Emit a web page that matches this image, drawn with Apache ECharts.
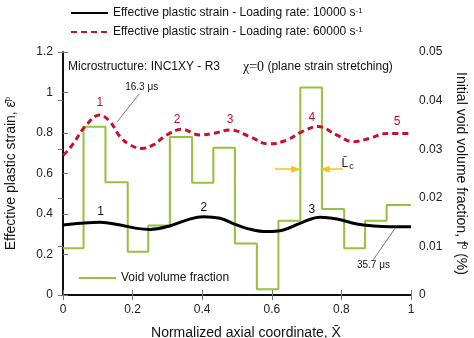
<!DOCTYPE html>
<html>
<head>
<meta charset="utf-8">
<script src="https://cdn.jsdelivr.net/npm/echarts@6/dist/echarts.min.js"></script>
<style>
  html, body { margin: 0; padding: 0; background: #fff; }
  #chart { width: 474px; height: 338px; }
</style>
</head>
<body>
<div id="chart"></div>
<script>
// Normalized axial coordinate samples and effective plastic strain, 10000 s^-1
const strain10kX = [0, 0.049, 0.106, 0.164, 0.212, 0.25, 0.307, 0.355, 0.403, 0.451, 0.499, 0.528, 0.585, 0.633, 0.681, 0.739, 0.787, 0.844, 0.892, 0.940, 1.0];
const strain10kY = [0.346, 0.354, 0.359, 0.346, 0.329, 0.324, 0.341, 0.370, 0.387, 0.379, 0.346, 0.329, 0.313, 0.321, 0.354, 0.384, 0.375, 0.351, 0.341, 0.337, 0.337];

// Effective plastic strain, 60000 s^-1
const strain60kX = [0, 0.011, 0.030, 0.063, 0.106, 0.135, 0.164, 0.193, 0.226, 0.259, 0.298, 0.341, 0.394, 0.432, 0.480, 0.537, 0.590, 0.643, 0.686, 0.733, 0.787, 0.834, 0.882, 0.930, 1.0];
const strain60kY = [0.690, 0.708, 0.749, 0.831, 0.889, 0.856, 0.782, 0.741, 0.724, 0.741, 0.790, 0.818, 0.790, 0.798, 0.815, 0.782, 0.746, 0.765, 0.806, 0.832, 0.790, 0.757, 0.774, 0.798, 0.798];

// Initial void volume fraction per cell (cell edges along X)
const voidEdges = [0, 0.059, 0.122, 0.186, 0.245, 0.307, 0.371, 0.432, 0.494, 0.557, 0.619, 0.682, 0.744, 0.808, 0.868, 0.930, 1];
const voidFraction = [0.0096, 0.0346, 0.0232, 0.0089, 0.0143, 0.0325, 0.0231, 0.0303, 0.0106, 0.0012, 0.0153, 0.0427, 0.0177, 0.0096, 0.0153, 0.0185];

// Axis ranges and tick steps
const xRange = [0, 1], xStep = 0.2;
const strainRange = [0, 1.2], strainStep = 0.2;
const voidRange = [0, 0.05], voidStep = 0.01;

// Peak numbering for each curve
const peaks60k = ['1', '2', '3', '4', '5'];
const peaks10k = ['1', '2', '3'];

const NAME_10K = 'Effective plastic strain - Loading rate: 10000 s-1';
const NAME_60K = 'Effective plastic strain - Loading rate: 60000 s-1';
const NAME_VOID = 'Void volume fraction';

const FONT = 'Liberation Sans, Arial, sans-serif';
const RED = '#c8102e';
const GREEN = '#93c23d';
const GOLD = '#f6c21c';

const zip = (xs, ys) => xs.map((x, i) => [x, ys[i]]);
const voidSteps = voidFraction.map((v, i) => [voidEdges[i], v]);
voidSteps.push([voidEdges[voidEdges.length - 1], voidFraction[voidFraction.length - 1]]);

const supRich = {
  sup: { fontSize: 8, fontFamily: FONT, verticalAlign: 'top', lineHeight: 10, padding: [0, 0, 6, 0] },
  sub: { fontSize: 9, fontFamily: FONT, verticalAlign: 'bottom', padding: [6, 0, 0, 1] }
};

const textMark = (coord, text, color, size) => ({
  coord, name: text, symbolSize: 0,
  label: { show: true, position: 'inside', formatter: '{b}', color, fontSize: size, fontFamily: FONT }
});

const chart = echarts.init(document.getElementById('chart'), null, { renderer: 'canvas' });

const option = {
  animation: false,
  backgroundColor: '#fff',
  textStyle: { fontFamily: FONT },
  grid: { left: 63, right: 63, top: 52, bottom: 43, containLabel: false, outerBoundsMode: 'none' },
  legend: [
    {
      data: [NAME_10K, NAME_60K],
      orient: 'vertical', left: 65, top: 2,
      itemWidth: 37, itemHeight: 14, itemGap: 5,
      itemStyle: { opacity: 0 },
      textStyle: { fontSize: 12, color: '#111', fontFamily: FONT, rich: supRich },
      formatter: n => n.replace('s-1', 's{sup|-1}')
    },
    {
      data: [NAME_VOID],
      orient: 'vertical', left: 73, top: 267,
      itemWidth: 37, itemHeight: 14,
      itemStyle: { opacity: 0 },
      textStyle: { fontSize: 12, color: '#111', fontFamily: FONT }
    }
  ],
  xAxis: [
    {
      type: 'value', min: xRange[0], max: xRange[1], interval: xStep,
      name: 'Normalized axial coordinate, X\u0304', nameLocation: 'middle', nameGap: 31,
      nameTextStyle: { fontSize: 14, color: '#111', fontFamily: FONT, padding: [0, 0, 0, 18] },
      axisLine: { lineStyle: { color: '#000', width: 1.5 } },
      axisTick: { inside: true, length: 5, lineStyle: { color: '#777' } },
      axisLabel: { fontSize: 12, color: '#222', margin: 9 },
      splitLine: { show: false }
    },
    {
      type: 'value', position: 'top', min: xRange[0], max: xRange[1], interval: xStep,
      axisLine: { show: true, lineStyle: { color: '#000', width: 1.5 } },
      axisTick: { inside: true, length: 5, lineStyle: { color: '#777' } },
      axisLabel: { show: false },
      splitLine: { show: false }
    }
  ],
  yAxis: [
    {
      type: 'value', min: strainRange[0], max: strainRange[1], interval: strainStep,
      name: 'Effective plastic strain, \u03b5\u0304{sup|p}', nameLocation: 'middle', nameRotate: 90, nameGap: 45,
      nameTextStyle: { fontSize: 14, color: '#111', fontFamily: FONT, rich: supRich },
      axisLine: { show: true, lineStyle: { color: '#000', width: 1.5 } },
      axisTick: { inside: true, length: 5, lineStyle: { color: '#777' } },
      axisLabel: { fontSize: 12, color: '#222', margin: 10 },
      splitLine: { show: false }
    },
    {
      type: 'value', position: 'right', min: voidRange[0], max: voidRange[1], interval: voidStep,
      name: 'Initial void volume fraction, f{sup|0} (%)', nameLocation: 'middle', nameRotate: -90, nameGap: 43,
      nameTextStyle: { fontSize: 14, color: '#111', fontFamily: FONT, rich: supRich },
      axisLine: { show: true, lineStyle: { color: '#000', width: 1.5 } },
      axisTick: { inside: true, length: 5, lineStyle: { color: '#777' } },
      axisLabel: { fontSize: 12, color: '#222', margin: 8 },
      splitLine: { show: false }
    }
  ],
  graphic: [
    {
      type: 'text', left: 68, top: 61,
      style: { text: 'Microstructure: INC1XY - R3', fontSize: 12, fill: '#111', fontFamily: FONT }
    },
    {
      type: 'text', left: 243, top: 60,
      style: {
        text: '{chi|\u03c7=0} (plane strain stretching)',
        fontSize: 12, fill: '#111', fontFamily: FONT,
        rich: { chi: { fontFamily: 'Liberation Serif, serif', fontSize: 14, fill: '#111' } }
      }
    }
  ],
  series: [
    {
      name: NAME_10K, type: 'line', xAxisIndex: 0, yAxisIndex: 0,
      data: zip(strain10kX, strain10kY), smooth: 0.4, symbol: 'none', z: 3,
      lineStyle: { color: '#000', width: 3 }, itemStyle: { color: '#000' },
      markPoint: {
        symbol: 'circle', symbolSize: 0,
        data: [
          textMark([0.108, 0.411], peaks10k[0], '#111', 12),
          textMark([0.405, 0.433], peaks10k[1], '#111', 12),
          textMark([0.715, 0.420], peaks10k[2], '#111', 12),
          textMark([0.892, 0.148], '35.7 \u03bcs', '#111', 10)
        ]
      },
      markLine: {
        silent: true, animation: false,
        data: [
          [{ coord: [0.954, 0.329], symbol: 'none' }, { coord: [0.892, 0.175], symbol: 'none' }],
          [{ coord: [0.609, 0.621], symbol: 'none' }, { coord: [0.670, 0.621], symbol: 'triangle', symbolSize: [7, 10], lineStyle: { color: GOLD, width: 1.5, type: 'solid' } }],
          [{ coord: [0.805, 0.621], symbol: 'none' }, { coord: [0.752, 0.621], symbol: 'triangle', symbolSize: [7, 10], lineStyle: { color: GOLD, width: 1.5, type: 'solid' } }]
        ],
        lineStyle: { color: '#777', width: 1, type: 'solid' },
        label: { show: false }
      }
    },
    {
      name: NAME_60K, type: 'line', xAxisIndex: 0, yAxisIndex: 0,
      data: zip(strain60kX, strain60kY), smooth: 0.4, symbol: 'none', z: 4,
      lineStyle: { color: RED, width: 3, type: [6, 4] }, itemStyle: { color: RED },
      markPoint: {
        symbol: 'circle', symbolSize: 0,
        data: [
          textMark([0.106, 0.950], peaks60k[0], RED, 12),
          textMark([0.328, 0.864], peaks60k[1], RED, 12),
          textMark([0.480, 0.864], peaks60k[2], RED, 12),
          textMark([0.715, 0.877], peaks60k[3], RED, 12),
          textMark([0.960, 0.856], peaks60k[4], RED, 12),
          textMark([0.226, 1.026], '16.3 \u03bcs', '#111', 10),
          {
            coord: [0.818, 0.649], name: 'L\u0304{sub|c}', symbolSize: 0,
            label: { show: true, position: 'inside', formatter: 'L\u0304{sub|c}', color: '#111', fontSize: 12, fontFamily: FONT, rich: supRich }
          }
        ]
      },
      markLine: {
        silent: true, animation: false, symbol: 'none',
        data: [[{ coord: [0.219, 0.993] }, { coord: [0.156, 0.856] }]],
        lineStyle: { color: '#777', width: 1, type: 'solid' },
        label: { show: false }
      }
    },
    {
      name: NAME_VOID, type: 'line', xAxisIndex: 0, yAxisIndex: 1,
      data: voidSteps, step: 'end', symbol: 'none', z: 2,
      lineStyle: { color: GREEN, width: 2 }, itemStyle: { color: GREEN }
    }
  ]
};

chart.setOption(option);
</script>
</body>
</html>
